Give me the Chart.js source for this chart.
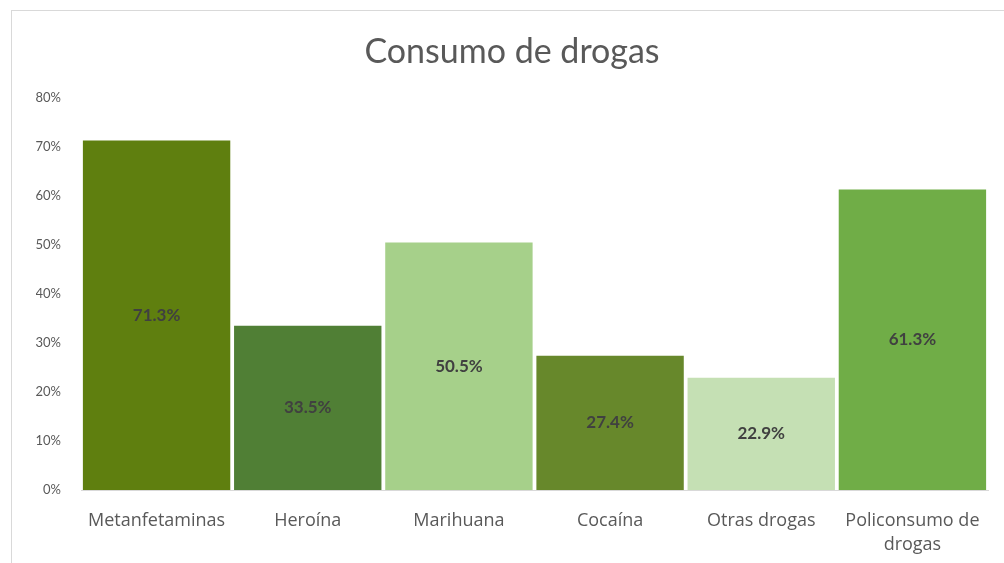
<!DOCTYPE html>
<html>
<head>
<meta charset="utf-8">
<script src="https://cdn.jsdelivr.net/npm/chart.js@4"></script>
<style>
    html, body { margin: 0; padding: 0; background: #fff; overflow: hidden; }
    #marco {
        position: absolute; left: 11px; top: 10px;
        width: 1010px; height: 560px;
        border: 1px solid #d9d9d9;
    }
    #grafico { display: block; }
</style>
</head>
<body>
<div id="marco"><canvas id="grafico" width="1000" height="552"></canvas></div>
<script>
/* ============================================================
   DATOS
============================================================ */
const CATEGORIAS = [
    "Metanfetaminas", "Heroína", "Marihuana", "Cocaína", "Otras drogas",
    ["Policonsumo de", "drogas"]
];
const PORCENTAJES = [71.3, 33.5, 50.5, 27.4, 22.9, 61.3];
const COLORES = ["#5f7f0f", "#507f35", "#a6d08a", "#67882b", "#c5e0b4", "#70ad47"];
const Y_MAX = 80;
const Y_PASO = 10;

/* ============================================================
   ETIQUETAS DENTRO DE LAS BARRAS
============================================================ */
const etiquetasBarras = {
    id: "etiquetasBarras",
    afterDatasetsDraw(chart) {
        const ctx = chart.ctx;
        const meta = chart.getDatasetMeta(0);
        ctx.save();
        ctx.font = "bold 17px Lato";
        ctx.fillStyle = "#404040";
        ctx.textAlign = "center";
        ctx.textBaseline = "middle";
        meta.data.forEach((bar, i) => {
            const v = chart.data.datasets[0].data[i];
            ctx.fillText(v.toFixed(1) + "%", bar.x, (bar.y + bar.base) / 2);
        });
        ctx.restore();
    }
};

new Chart(document.getElementById("grafico"), {
    type: "bar",
    data: {
        labels: CATEGORIAS,
        datasets: [{
            data: PORCENTAJES,
            backgroundColor: COLORES,
            borderWidth: 0,
            categoryPercentage: 0.975,
            barPercentage: 1
        }]
    },
    plugins: [etiquetasBarras],
    options: {
        responsive: false,
        animation: false,
        layout: { padding: { left: 24, right: 24, top: 0, bottom: 0 } },
        plugins: {
            legend: { display: false },
            tooltip: { enabled: false },
            title: {
                display: true,
                text: "Consumo de drogas",
                color: "#595959",
                font: { family: "Lato", size: 34, weight: "normal" },
                padding: { top: 21, bottom: 25 }
            }
        },
        scales: {
            x: {
                grid: { display: false },
                border: { display: true, color: "#d9d9d9" },
                ticks: {
                    color: "#595959",
                    font: { family: "Open Sans", size: 18, lineHeight: 1.38 },
                    padding: 10,
                    maxRotation: 0,
                    autoSkip: false
                },
                afterFit(scale) { scale.height = 73; }
            },
            y: {
                min: 0,
                max: Y_MAX,
                grid: { display: false, drawTicks: false },
                border: { display: false },
                ticks: {
                    stepSize: Y_PASO,
                    color: "#595959",
                    font: { family: "Lato", size: 13 },
                    padding: 20,
                    callback: v => v + "%"
                },
                afterFit(scale) { scale.width = 45; }
            }
        }
    }
});
</script>
</body>
</html>
